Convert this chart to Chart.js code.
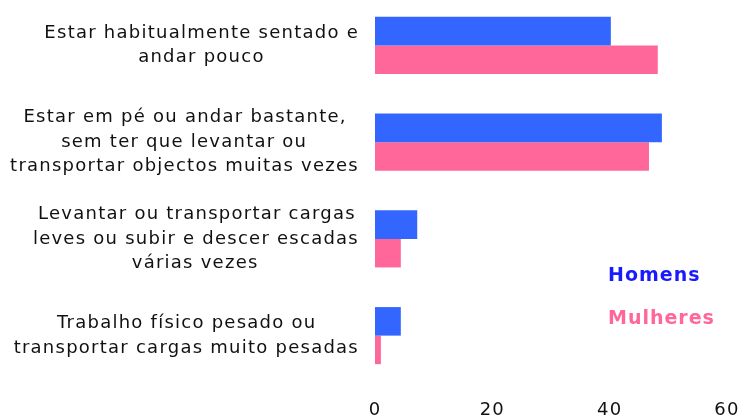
<!DOCTYPE html>
<html><head><meta charset="utf-8">
<script src="https://cdn.jsdelivr.net/npm/chart.js@4.4.1/dist/chart.umd.min.js"></script>
<style>
html,body{margin:0;padding:0;background:#fff;overflow:hidden;}
#wrap{position:absolute;left:0;top:-3px;width:741px;height:423px;}
</style></head><body>
<div id="wrap"><canvas id="c"></canvas></div>
<script>
const categories = [
  ["Estar habitualmente sentado e", "andar pouco"],
  ["Estar em pé ou andar bastante,", "sem ter que levantar ou", "transportar objectos muitas vezes"],
  ["Levantar ou transportar cargas", "leves ou subir e descer escadas", "várias vezes"],
  ["Trabalho físico pesado ou", "transportar cargas muito pesadas"]
];
const seriesNames = ["Homens", "Mulheres"];
const homens = [40.2, 48.9, 7.2, 4.4];
const mulheres = [48.2, 46.7, 4.4, 1.0];
const xTicks = [0, 20, 40, 60];

const barColors = ["#3366ff", "#ff6699"];
const legendColors = ["#1a1aff", "#ff6699"];
const FONT = "DejaVu Sans";
const LABEL_SIZE = 18;
const LETTER_SP = "1.25px";

// measuring context for centring lines inside each right-aligned block
const mctx = document.createElement("canvas").getContext("2d");
mctx.font = LABEL_SIZE + "px '" + FONT + "'";
mctx.letterSpacing = LETTER_SP;
function centreBlock(lines) {
  const padCh = mctx.measureText("\u200A").width > 0.5 ? "\u200A" : " ";
  const pw = mctx.measureText(padCh).width;
  const widths = lines.map(l => mctx.measureText(l).width);
  const max = Math.max(...widths);
  return lines.map((l, i) => {
    const n = Math.round((max - widths[i]) / 2 / pw);
    return l + padCh.repeat(n);
  });
}

const spacingPlugin = {
  id: "spacing",
  beforeLayout(chart) { chart.ctx.letterSpacing = LETTER_SP; },
  beforeDraw(chart) { chart.ctx.letterSpacing = LETTER_SP; }
};

const legendPlugin = {
  id: "textLegend",
  afterDraw(chart) {
    const ctx = chart.ctx;
    ctx.save();
    ctx.letterSpacing = "1px";
    ctx.font = "bold 19px '" + FONT + "'";
    ctx.textAlign = "left";
    ctx.textBaseline = "middle";
    const ys = [279, 322];
    chart.data.datasets.forEach((ds, i) => {
      ctx.fillStyle = legendColors[i];
      ctx.fillText(ds.label, 608, ys[i]);
    });
    ctx.restore();
  }
};

new Chart(document.getElementById("c"), {
  type: "bar",
  data: {
    labels: categories,
    datasets: [
      { label: seriesNames[0], data: homens, backgroundColor: barColors[0] },
      { label: seriesNames[1], data: mulheres, backgroundColor: barColors[1] }
    ]
  },
  options: {
    indexAxis: "y",
    responsive: true,
    maintainAspectRatio: false,
    animation: false,
    events: [],
    categoryPercentage: 0.59,
    barPercentage: 1.0,
    layout: { padding: { left: 0, right: 14, top: 0, bottom: 0 } },
    plugins: { legend: { display: false }, tooltip: { enabled: false } },
    scales: {
      x: {
        min: 0, max: 60,
        afterBuildTicks: s => { s.ticks = xTicks.map(v => ({ value: v })); },
        afterFit: s => { s.paddingLeft = 0; s.paddingRight = 0; s.height = 36; },
        grid: { display: false, drawTicks: false },
        border: { display: false },
        ticks: { color: "#111", padding: 16, font: { family: FONT, size: LABEL_SIZE, lineHeight: 1.2 } }
      },
      y: {
        grid: { display: false, drawTicks: false },
        border: { display: false },
        afterFit: s => { s.width = 375; s.paddingTop = 0; s.paddingBottom = 0; },
        ticks: {
          color: "#111", padding: 16, autoSkip: false,
          font: { family: FONT, size: LABEL_SIZE, lineHeight: 1.36 },
          callback: function (v, i) { return centreBlock(categories[i]); }
        }
      }
    }
  },
  plugins: [spacingPlugin, legendPlugin]
});
</script>
</body></html>
